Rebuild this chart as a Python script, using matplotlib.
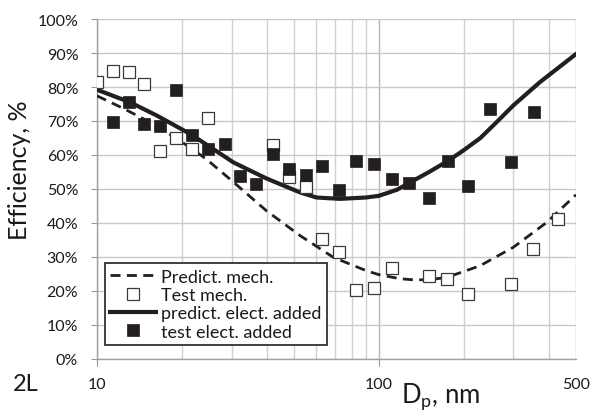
import matplotlib
matplotlib.use("Agg")
import matplotlib.pyplot as plt
from matplotlib.ticker import FixedLocator, NullFormatter

plt.rcParams['font.family'] = ['Lato', 'DejaVu Sans']

# Test mech. (open squares)
test_mech_x = [10, 11.4, 13.0, 14.7, 16.7, 19.1, 21.7, 24.8, 42, 48, 55, 63, 72,
               83, 96, 111, 151, 175, 207, 293, 353, 432]
test_mech_y = [81.5, 84.7, 84.4, 80.9, 61.2, 65.0, 61.8, 70.9, 62.9, 53.6, 50.5,
               35.4, 31.4, 20.3, 21.0, 26.8, 24.4, 23.4, 19.2, 22.0, 32.4, 41.2]

# test elect. added (filled squares)
test_elec_x = [11.4, 13.0, 14.7, 16.7, 19.1, 21.7, 24.8, 28.4, 32.1, 36.6, 42,
               47.8, 55, 63, 72, 83, 96, 111, 128, 151, 176, 207, 247, 293, 355]
test_elec_y = [69.7, 75.7, 69.2, 68.4, 79.1, 65.8, 61.7, 63.2, 53.7, 51.4, 60.3,
               55.9, 54.1, 56.9, 49.7, 58.1, 57.4, 52.9, 51.7, 47.3, 58.1, 51.0,
               73.5, 57.8, 72.6]

# Predict. mech. (dashed curve)
pred_mech_x = [10, 12.4, 16.3, 21.4, 24.5, 30.5, 39.9, 52.5, 68.9, 90, 100, 119,
               132, 150, 174, 228, 299, 394, 500]
pred_mech_y = [77.4, 73.7, 68.6, 62.2, 58.7, 52.0, 43.6, 36.3, 29.9, 26.0, 24.8,
               23.6, 23.3, 23.3, 24.0, 27.4, 32.8, 40.2, 48.3]

# predict. elect. added (solid curve)
pred_elec_x = [10, 13.1, 16.3, 21.4, 26.9, 30.5, 39.9, 52.5, 60, 72.8, 90, 100,
               116, 152, 176, 199, 229, 261, 299, 372, 500]
pred_elec_y = [79.2, 75.5, 71.6, 66.2, 60.8, 57.8, 53.1, 49.0, 47.5, 47.1, 47.5,
               48.0, 49.8, 55.2, 58.3, 61.3, 65.0, 69.6, 74.5, 81.4, 89.7]

y_ticks = list(range(0, 101, 10))
y_tick_labels = [f"{v}%" for v in y_ticks]
x_ticks = [10, 100, 500]
x_tick_labels = ["10", "100", "500"]
x_minor = [20, 30, 40, 50, 60, 70, 80, 90, 200, 300, 400]

fig = plt.figure(figsize=(5.98, 4.14), dpi=100)
ax = fig.add_axes([97/598, 1 - 360/414, 479/598, 340/414])

ax.set_xscale('log')
ax.set_xlim(10, 500)
ax.set_ylim(0, 100)

dark = '#231f20'
ax.plot(pred_mech_x, pred_mech_y, color=dark, lw=2.0, ls=(0, (3.6, 2.3)),
        label='Predict. mech.', zorder=3)
ax.plot(test_mech_x, test_mech_y, ls='none', marker='s', ms=8,
        mfc='white', mec='#3a3a3a', mew=0.9, label='Test mech.', zorder=4)
ax.plot(pred_elec_x, pred_elec_y, color=dark, lw=3.0,
        label='predict. elect. added', zorder=3)
ax.plot(test_elec_x, test_elec_y, ls='none', marker='s', ms=8,
        mfc=dark, mec=dark, mew=0.5, label='test elect. added', zorder=4)

# grid
ax.set_yticks(y_ticks)
ax.set_yticklabels(y_tick_labels)
ax.set_xticks(x_ticks)
ax.set_xticklabels(x_tick_labels)
ax.xaxis.set_minor_locator(FixedLocator(x_minor))
ax.xaxis.set_minor_formatter(NullFormatter())
ax.grid(True, which='major', axis='y', color='#c9c9c9', lw=1.0, zorder=0)
ax.grid(True, which='major', axis='x', color='#b4b4c0', lw=1.0, zorder=0)
ax.grid(True, which='minor', axis='x', color='#d0d0d0', lw=1.0, zorder=0)
ax.set_axisbelow(True)

ax.tick_params(axis='y', which='major', direction='out', length=4.5, width=0.8,
               color='#999999', pad=9, labelsize=11.5, labelcolor='#1a1a1a')
ax.tick_params(axis='x', which='major', direction='out', length=5, width=0.8,
               color='#999999', pad=8, labelsize=11.5, labelcolor='#1a1a1a')
ax.tick_params(axis='x', which='minor', length=0)
ax.xaxis.get_major_ticks()[2].tick1line.set_visible(False)

for s in ['top', 'right']:
    ax.spines[s].set_visible(False)
for s in ['left', 'bottom']:
    ax.spines[s].set_color('#a0a0a0')
    ax.spines[s].set_linewidth(1.0)

leg = ax.legend(loc='lower left', bbox_to_anchor=(8/479, 14/340),
                borderaxespad=0, fancybox=False, framealpha=1,
                edgecolor=dark, fontsize=13, handlelength=2.5,
                handletextpad=0.3, labelspacing=0.13, borderpad=0.3)
leg.get_frame().set_linewidth(1.2)
for t in leg.get_texts():
    t.set_color('#1a1a1a')

fig.text(20/598, 1 - 170/414, 'Efficiency, %', rotation=90, ha='center',
         va='center', fontsize=18, color='#1a1a1a')
fig.text(441/598, 1 - 397/414, r'D$_\mathregular{p}$, nm', ha='center',
         va='center', fontsize=18.5, color='#1a1a1a')
fig.text(26/598, 1 - 385/414, '2L', ha='center', va='center', fontsize=17,
         color='#1a1a1a')

fig.savefig('out.png', dpi=100)
